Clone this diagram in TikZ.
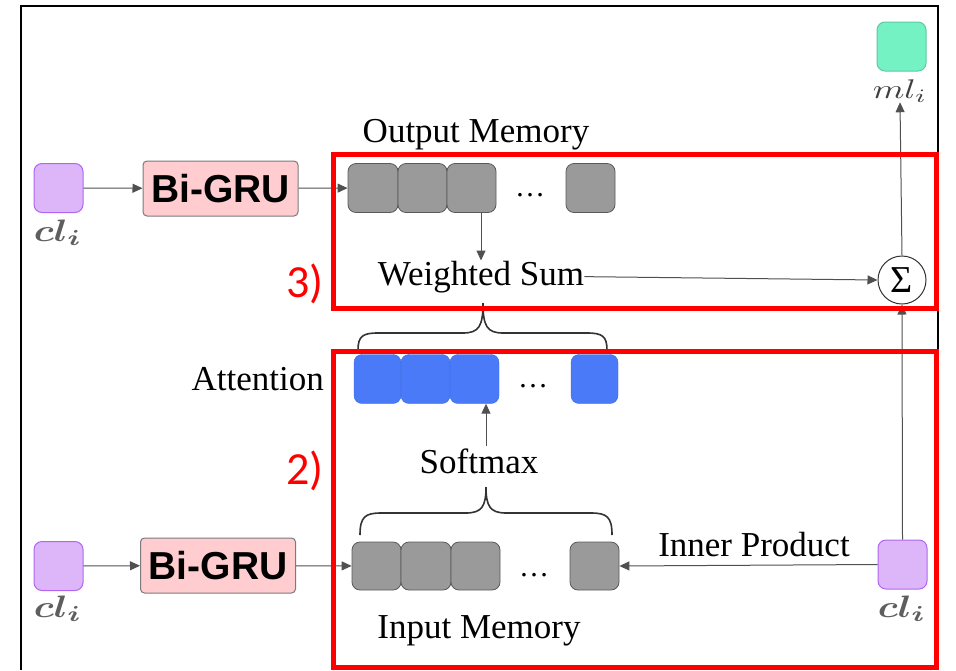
\documentclass[tikz,border=0pt]{standalone}
\usepackage{bm}
\usepackage{fontspec}
\setmainfont{Liberation Serif}
\newfontfamily\gruFont{Liberation Sans}
\newfontfamily\numFont{Carlito}
\usetikzlibrary{arrows.meta,calc}
\definecolor{cellgray}{HTML}{9A9A9A}
\definecolor{cellborder}{HTML}{5A5A5A}
\definecolor{cellblue}{HTML}{4A7AF8}
\definecolor{purpfill}{HTML}{DDB5F9}
\definecolor{purpdraw}{HTML}{B066F2}
\definecolor{greenfill}{HTML}{74F2C4}
\definecolor{greendraw}{HTML}{5CC9A2}
\definecolor{grupink}{HTML}{FFCCD0}
\definecolor{grubord}{HTML}{7A7A7A}
\definecolor{linegray}{HTML}{505050}
\definecolor{labgray}{HTML}{5E5E5E}
\begin{document}
\begin{tikzpicture}[x=1pt,y=-1pt,
  cell/.style={rectangle, rounded corners=8pt, inner sep=0pt, minimum width=49pt, minimum height=49pt},
  graycell/.style={cell, fill=cellgray, draw=cellborder, line width=0.8pt},
  bluecell/.style={cell, fill=cellblue, draw=cellblue!85!black, line width=0.4pt},
  purpcell/.style={cell, fill=purpfill, draw=purpdraw, line width=1pt},
  greencell/.style={cell, fill=greenfill, draw=greendraw, line width=1pt},
  arr/.style={-{Triangle[length=10pt,width=9pt]}, draw=linegray, line width=1pt},
  lbl/.style={font=\fontsize{35}{38}\selectfont, inner sep=0pt},
  dotlbl/.style={font=\fontsize{30}{34}\selectfont, inner sep=0pt},
  redlbl/.style={font=\numFont\fontsize{46}{48}\selectfont, text=red, inner sep=0pt},
  redbox/.style={draw=red, line width=5pt},
  gru/.style={rectangle, rounded corners=4pt, fill=grupink, draw=grubord, line width=1pt,
    minimum width=155pt, minimum height=55pt, inner sep=0pt,
    font=\gruFont\bfseries\fontsize{39}{40}\selectfont},
  brc/.style={draw=black!80, line width=1.6pt},
  mathcl/.style={text=labgray, inner sep=0pt},
  mathml/.style={text=black!75, inner sep=0pt}
]
\useasboundingbox (0,0) rectangle (956,670);
% outer frame
\draw[line width=1.6pt] (21,670) -- (21,6) -- (938,6) -- (938,670);

% top row
\node[purpcell] (clA) at (58.5,188) {};
\node[mathcl, anchor=base] (clAl) at (58,241) {\scalebox{3.9}[3.1]{$\bm{cl_i}$}};
\node[gru] (gruA) at (220.5,188.5) {Bi-GRU};
\node[graycell, minimum width=50pt] (oA) at (373,188) {};
\node[graycell] (oB) at (422.5,188) {};
\node[graycell] (oC) at (471.5,188) {};
\node[dotlbl, anchor=base] (oD) at (530,196) {\dots};
\node[graycell] (oE) at (590.5,188) {};
\node[lbl, anchor=base] (omem) at (476,142) {Output Memory};
\node[lbl, anchor=base] (ws) at (481,285) {Weighted Sum};

% right column
\node[greencell] (ml) at (901.5,46.5) {};
\node[mathml, anchor=base] (mll) at (900,98) {\scalebox{3.6}[2.7]{$ml_i$}};
\node[circle, draw=black!80, fill=white, line width=1pt, minimum size=48pt, inner sep=0pt,
  font=\fontsize{38}{40}\selectfont] (sig) at (902,280) {Σ};
\node[purpcell] (clC) at (902.5,564.5) {};
\node[mathcl, anchor=base] (clCl) at (902,617) {\scalebox{3.9}[3.1]{$\bm{cl_i}$}};

% attention row
\node[lbl, anchor=base east] (att) at (324,390) {Attention};
\node[bluecell, minimum width=47pt] (aA) at (377.5,379) {};
\node[bluecell] (aB) at (425.5,379) {};
\node[bluecell] (aC) at (474.5,379) {};
\node[dotlbl, anchor=base] (aD) at (533,387) {\dots};
\node[bluecell, minimum width=47pt] (aE) at (594.5,379) {};
\node[lbl, anchor=base] (sm) at (479,473) {Softmax};

% bottom row
\node[purpcell] (clB) at (58.5,566) {};
\node[mathcl, anchor=base] (clBl) at (58,617) {\scalebox{3.9}[3.1]{$\bm{cl_i}$}};
\node[gru] (gruB) at (218,565.5) {Bi-GRU};
\node[graycell, minimum height=48pt] (iA) at (376.5,566) {};
\node[graycell, minimum height=48pt, minimum width=50pt] (iB) at (426,566) {};
\node[graycell, minimum height=48pt] (iC) at (475.5,566) {};
\node[dotlbl, anchor=base] (iD) at (534,576) {\dots};
\node[graycell, minimum height=48pt] (iE) at (594.5,566) {};
\node[lbl, anchor=base] (ip) at (754,556) {Inner Product};
\node[lbl, anchor=base] (imem) at (479,638) {Input Memory};

% connectors
\draw[arr] (clA) -- (gruA);
\draw[arr] (gruA) -- (oA);
\draw[arr] (ws.north |- oC.south) -- (ws.north);
\draw[arr] (ws.east) -- (sig.west);
\draw[arr] (sig.north) -- (mll.south);
\draw[arr] (clC.north) -- (sig.south);
\draw[arr] (clC.west) -- (iE.east);
\draw[arr] (clB) -- (gruB);
\draw[arr] (gruB) -- (iA);
\draw[arr] ($(sm.north)+(7,-2)$) -- ($(aC.south)+(11.5,0)$);

% braces
\draw[brc] (358,350) .. controls (358,336) and (363,333) .. (378,333) -- (463,333)
  .. controls (479,333) and (483,326) .. (483,303);
\draw[brc] (607,350) .. controls (607,336) and (602,333) .. (587,333) -- (503,333)
  .. controls (487,333) and (483,326) .. (483,303);
\draw[brc] (360,535) .. controls (360,517) and (365,513) .. (381,513) -- (466,513)
  .. controls (482,513) and (486,506) .. (486,487);
\draw[brc] (612,535) .. controls (612,517) and (607,513) .. (591,513) -- (506,513)
  .. controls (490,513) and (486,506) .. (486,487);

% red boxes and labels
\draw[redbox] (333,154) rectangle (936,308);
\draw[redbox] (333,351) rectangle (936,667);
\node[redlbl, anchor=base west] (n3) at (286,297) {3)};
\node[redlbl, anchor=base west] (n2) at (286,484) {2)};
\end{tikzpicture}
\end{document}
